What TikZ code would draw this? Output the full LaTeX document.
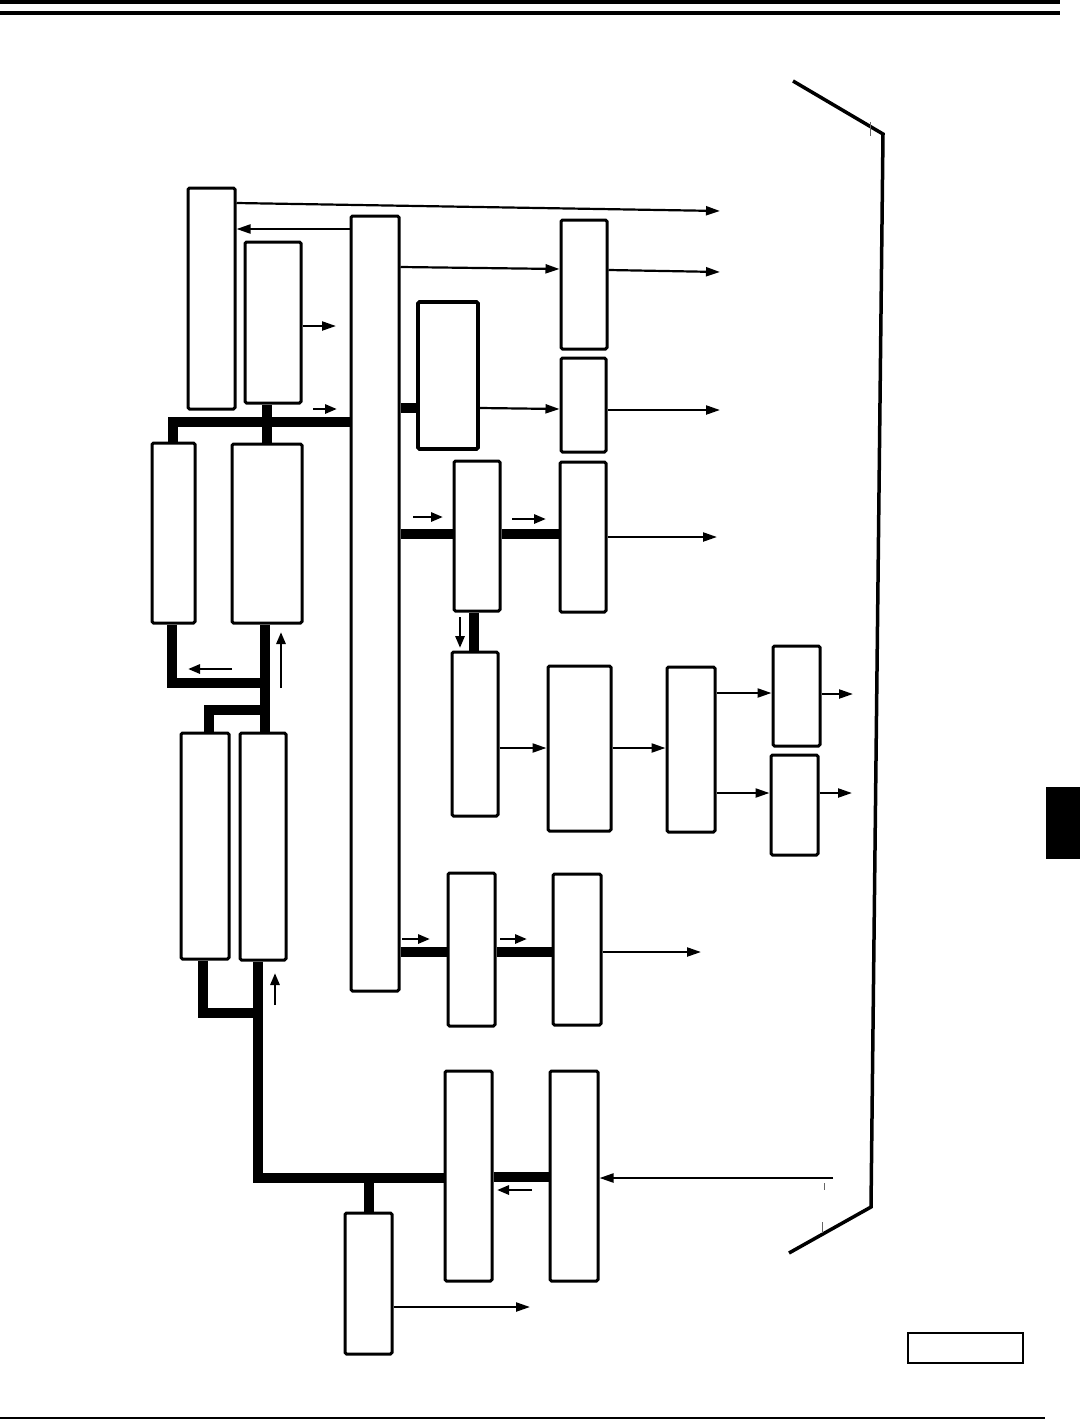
\documentclass[tikz,border=0pt]{standalone}
\usetikzlibrary{arrows.meta,fit}
\begin{document}
\begin{tikzpicture}[x=1pt,y=-1pt,
  box/.style={draw, line width=3pt, rounded corners=1.5pt, inner sep=0pt, fit={#1}},
  bus/.style={line width=10pt, line join=miter},
  arr/.style={line width=2.2pt, -{Triangle[length=14pt,width=9pt]}},
  sarr/.style={line width=2.8pt, -{Triangle[length=12pt,width=9pt]}},
  frame/.style={line width=3.5pt, line join=miter}
]
\useasboundingbox (0,0) rectangle (1080,1419);
% header and footer rules
\draw[line width=4pt] (0,2) -- (1060,2);
\draw[line width=4pt] (0,12.5) -- (1060,12.5);
\draw[line width=2pt] (0,1418) -- (1045,1418);

% boxes
\node[box={(188,188) (235,409)}] (A) {};
\node[box={(245,242) (301,403)}] (C) {};
\node[box={(351,216) (399,991)}] (B) {};
\node[box={(418,302) (478,449)}, line width=3.8pt] (D) {};
\node[box={(561,220) (607,349)}] (E) {};
\node[box={(561,358) (606,452)}] (F) {};
\node[box={(560,462) (606,612)}] (G) {};
\node[box={(454,461) (500,611)}] (H) {};
\node[box={(452,652) (498,816)}] (I) {};
\node[box={(548,666) (611,831)}] (J) {};
\node[box={(667,667) (715,832)}] (K) {};
\node[box={(773,646) (820,746)}] (L1) {};
\node[box={(771,755) (818,855)}] (L2) {};
\node[box={(448,873) (495,1026)}] (M) {};
\node[box={(553,874) (601,1025)}] (N) {};
\node[box={(152,443) (195,623)}] (P) {};
\node[box={(232,444) (302,623)}] (Q) {};
\node[box={(181,733) (229,959)}] (R) {};
\node[box={(240,733) (286,960)}] (S) {};
\node[box={(445,1071) (492,1281)}] (T) {};
\node[box={(550,1071) (598,1281)}] (V) {};
\node[box={(345,1213) (392,1354)}] (U) {};
\node[draw, line width=2.6pt, inner sep=0pt, fit={(908,1333) (1023,1363)}] (W) {};
\node[fill=black, inner sep=0pt, fit={(1046,787) (1080,859)}] (blk) {};

% free ends
\coordinate (o1) at (720,211);
\coordinate (o2) at (336,326);
\coordinate (o3) at (720,272);
\coordinate (o4) at (720,410);
\coordinate (o5) at (717,537);
\coordinate (o6) at (853,694);
\coordinate (o7) at (852,793);
\coordinate (o8) at (701,952);
\coordinate (o9) at (530,1307);
\coordinate (in1) at (833,1178);

% thin connectors
\draw[arr] (A.east |- 0,203) -- (o1);
\draw[arr] (B.west |- 0,229) -- (A.east |- 0,229);
\draw[arr] (C.east |- o2) -- (o2);
\draw[arr] (B.east |- 0,267) -- (E.west |- 0,269);
\draw[arr] (E.east |- 0,270) -- (o3);
\draw[arr] (D.east |- 0,408) -- (F.west |- 0,409);
\draw[arr] (F.east |- o4) -- (o4);
\draw[arr] (G.east |- o5) -- (o5);
\draw[arr] (I.east |- 0,748) -- (J.west |- 0,748);
\draw[arr] (J.east |- 0,748) -- (K.west |- 0,748);
\draw[arr] (K.east |- 0,693) -- (L1.west |- 0,693);
\draw[arr] (K.east |- 0,793) -- (L2.west |- 0,793);
\draw[arr] (L1.east |- o6) -- (o6);
\draw[arr] (L2.east |- o7) -- (o7);
\draw[arr] (N.east |- o8) -- (o8);
\draw[arr] (U.east |- o9) -- (o9);
\draw[arr] (in1) -- (V.east |- in1);

% thick buses
\coordinate (j1) at (173,422);
\draw[bus] (B.west |- j1) -- (j1) -- (j1 |- P.north);
\draw[bus] (C.south -| 267,0) -- (Q.north -| 267,0);
\draw[bus] (B.east |- 0,408) -- (D.west |- 0,408);
\draw[bus] (B.east |- 0,534) -- (H.west |- 0,534);
\draw[bus] (H.east |- 0,534) -- (G.west |- 0,534);
\draw[bus] (H.south -| 474,0) -- (I.north -| 474,0);
\draw[bus] (B.east |- 0,952) -- (M.west |- 0,952);
\draw[bus] (M.east |- 0,952) -- (N.west |- 0,952);
\coordinate (j2) at (172,683);
\coordinate (j3) at (265,683);
\draw[bus] (P.south -| j2) -- (j2) -- (j3);
\draw[bus] (Q.south -| j3) -- (S.north -| j3);
\coordinate (j4) at (265,710);
\coordinate (j5) at (209,710);
\draw[bus] (j4) -- (j5) -- (R.north -| j5);
\coordinate (j6) at (203,1013);
\coordinate (j7) at (258,1013);
\draw[bus] (R.south -| j6) -- (j6) -- (j7);
\coordinate (j8) at (258,1178);
\draw[bus] (S.south -| j8) -- (j8) -- (T.west |- j8);
\coordinate (j9) at (369,1178);
\draw[bus] (j9) -- (U.north -| j9);
\draw[bus] (T.east |- 0,1177) -- (V.west |- 0,1177);

% small flow indicator arrows
\draw[sarr] (313,409) -- (337,409);
\draw[sarr] (413,517) -- (443,517);
\draw[sarr] (512,519) -- (546,519);
\draw[sarr] (460,617) -- (460,648);
\draw[sarr] (402,939) -- (430,939);
\draw[sarr] (500,939) -- (527,939);
\draw[sarr] (232,669) -- (188,669);
\draw[sarr] (281,688) -- (281,632);
\draw[sarr] (275,1005) -- (275,973);
\draw[sarr] (532,1190) -- (497,1190);

% right-hand bracket
\draw[frame] (793,81) -- (883,134) -- (871,1207) -- (789,1253);
\draw[line width=0.7pt, black!60] (870,122) -- (870,136);
\draw[line width=0.7pt, black!60] (824,1183) -- (824,1190);
\draw[line width=0.7pt, black!60] (822,1222) -- (822,1233);
\end{tikzpicture}
\end{document}
